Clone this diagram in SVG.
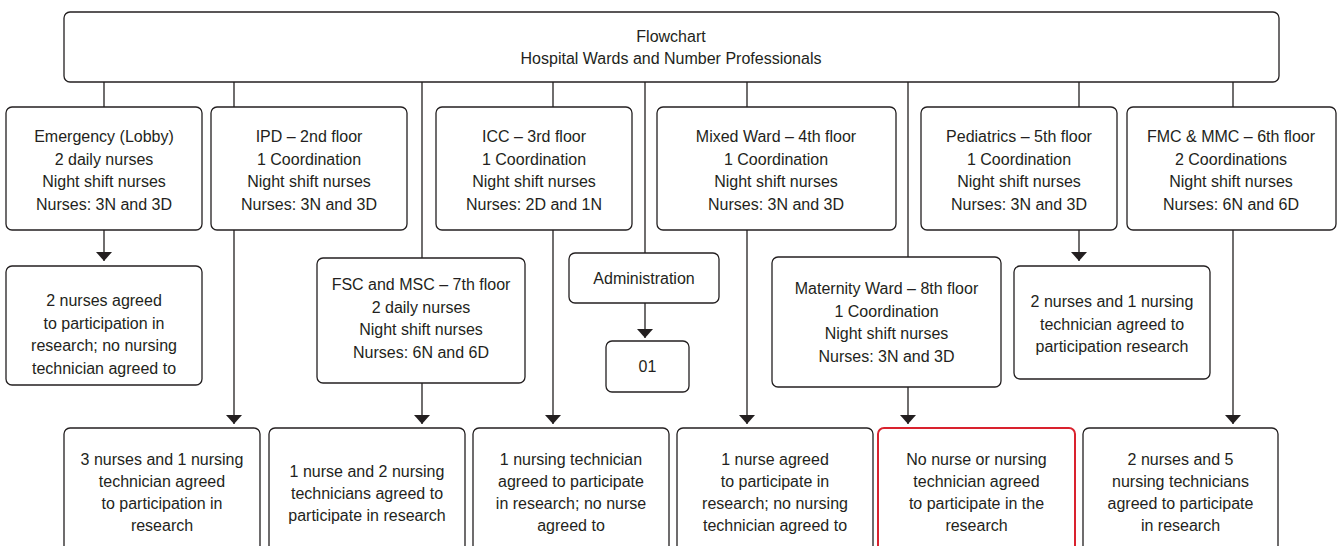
<svg xmlns="http://www.w3.org/2000/svg" width="1338" height="546" viewBox="0 0 1338 546">
<style>
.box{fill:#fff;stroke:#231f20;stroke-width:1.3}
.red{fill:#fff;stroke:#d9222e;stroke-width:2}
text{font-family:"Liberation Sans",Arial,sans-serif;font-size:16px;fill:#231f20;text-anchor:middle}
#connectors line{stroke:#231f20;stroke-width:1.3}
</style>
<defs>
<marker id="arr" markerUnits="userSpaceOnUse" markerWidth="9" markerHeight="16" viewBox="0 0 9 16" refX="9" refY="8" orient="auto">
<path d="M0,0 L9,8 L0,16 Z" fill="#231f20"/>
</marker>
</defs>
<rect width="1338" height="546" fill="#fff"/>
<g id="connectors">
<line x1="104" y1="82" x2="104" y2="107"/>
<line x1="234" y1="82" x2="234" y2="107"/>
<line x1="422" y1="82" x2="422" y2="258"/>
<line x1="553" y1="82" x2="553" y2="107"/>
<line x1="645" y1="82" x2="645" y2="253"/>
<line x1="747" y1="82" x2="747" y2="107"/>
<line x1="908" y1="82" x2="908" y2="257"/>
<line x1="1079" y1="82" x2="1079" y2="107"/>
<line x1="1233" y1="82" x2="1233" y2="107"/>
<line x1="104" y1="230" x2="104" y2="261" marker-end="url(#arr)"/>
<line x1="1079" y1="230" x2="1079" y2="261" marker-end="url(#arr)"/>
<line x1="645" y1="303" x2="645" y2="338" marker-end="url(#arr)"/>
<line x1="234" y1="230" x2="234" y2="424" marker-end="url(#arr)"/>
<line x1="422" y1="383" x2="422" y2="424" marker-end="url(#arr)"/>
<line x1="553" y1="230" x2="553" y2="424" marker-end="url(#arr)"/>
<line x1="747" y1="230" x2="747" y2="424" marker-end="url(#arr)"/>
<line x1="908" y1="387" x2="908" y2="424" marker-end="url(#arr)"/>
<line x1="1233" y1="230" x2="1233" y2="424" marker-end="url(#arr)"/>
</g>
<g id="title">
<rect class="box" x="64" y="12" width="1215" height="70" rx="6"/>
<text x="671" y="42">Flowchart</text>
<text x="671" y="64">Hospital Wards and Number Professionals</text>
</g>
<g id="emergency">
<rect class="box" x="6" y="107" width="196" height="123" rx="6"/>
<text x="104" y="142">Emergency (Lobby)</text>
<text x="104" y="164.5">2 daily nurses</text>
<text x="104" y="187">Night shift nurses</text>
<text x="104" y="209.5">Nurses: 3N and 3D</text>
</g>
<g id="ipd">
<rect class="box" x="211" y="107" width="196" height="123" rx="6"/>
<text x="309" y="142">IPD – 2nd floor</text>
<text x="309" y="164.5">1 Coordination</text>
<text x="309" y="187">Night shift nurses</text>
<text x="309" y="209.5">Nurses: 3N and 3D</text>
</g>
<g id="icc">
<rect class="box" x="436" y="107" width="196" height="123" rx="6"/>
<text x="534" y="142">ICC – 3rd floor</text>
<text x="534" y="164.5">1 Coordination</text>
<text x="534" y="187">Night shift nurses</text>
<text x="534" y="209.5">Nurses: 2D and 1N</text>
</g>
<g id="mixed">
<rect class="box" x="657" y="107" width="239" height="123" rx="6"/>
<text x="776" y="142">Mixed Ward – 4th floor</text>
<text x="776" y="164.5">1 Coordination</text>
<text x="776" y="187">Night shift nurses</text>
<text x="776" y="209.5">Nurses: 3N and 3D</text>
</g>
<g id="pediatrics">
<rect class="box" x="921" y="107" width="196" height="123" rx="6"/>
<text x="1019" y="142">Pediatrics – 5th floor</text>
<text x="1019" y="164.5">1 Coordination</text>
<text x="1019" y="187">Night shift nurses</text>
<text x="1019" y="209.5">Nurses: 3N and 3D</text>
</g>
<g id="fmc">
<rect class="box" x="1127" y="107" width="209" height="123" rx="6"/>
<text x="1231" y="142">FMC &amp; MMC – 6th floor</text>
<text x="1231" y="164.5">2 Coordinations</text>
<text x="1231" y="187">Night shift nurses</text>
<text x="1231" y="209.5">Nurses: 6N and 6D</text>
</g>
<g id="emergency-result">
<rect class="box" x="6" y="266" width="196" height="119" rx="6"/>
<text x="104" y="306">2 nurses agreed</text>
<text x="104" y="328.5">to participation in</text>
<text x="104" y="351">research; no nursing</text>
<text x="104" y="373.5">technician agreed to</text>
</g>
<g id="fsc">
<rect class="box" x="317" y="258" width="208" height="125" rx="6"/>
<text x="421" y="290">FSC and MSC – 7th floor</text>
<text x="421" y="312.5">2 daily nurses</text>
<text x="421" y="335">Night shift nurses</text>
<text x="421" y="357.5">Nurses: 6N and 6D</text>
</g>
<g id="administration">
<rect class="box" x="569" y="253" width="150" height="50" rx="6"/>
<text x="644" y="284">Administration</text>
</g>
<g id="admin-count">
<rect class="box" x="606" y="341" width="83" height="51" rx="6"/>
<text x="647.5" y="372">01</text>
</g>
<g id="maternity">
<rect class="box" x="772" y="257" width="229" height="130" rx="6"/>
<text x="886.5" y="294">Maternity Ward – 8th floor</text>
<text x="886.5" y="316.5">1 Coordination</text>
<text x="886.5" y="339">Night shift nurses</text>
<text x="886.5" y="361.5">Nurses: 3N and 3D</text>
</g>
<g id="pediatrics-result">
<rect class="box" x="1014" y="266" width="196" height="113" rx="6"/>
<text x="1112" y="307">2 nurses and 1 nursing</text>
<text x="1112" y="329.5">technician agreed to</text>
<text x="1112" y="352">participation research</text>
</g>
<g id="ipd-result">
<rect class="box" x="64" y="428" width="196" height="140" rx="6"/>
<text x="162" y="465">3 nurses and 1 nursing</text>
<text x="162" y="487">technician agreed</text>
<text x="162" y="509">to participation in</text>
<text x="162" y="531">research</text>
</g>
<g id="fsc-result">
<rect class="box" x="269" y="428" width="196" height="140" rx="6"/>
<text x="367" y="477">1 nurse and 2 nursing</text>
<text x="367" y="499">technicians agreed to</text>
<text x="367" y="521">participate in research</text>
</g>
<g id="icc-result">
<rect class="box" x="473" y="428" width="196" height="140" rx="6"/>
<text x="571" y="465">1 nursing technician</text>
<text x="571" y="487">agreed to participate</text>
<text x="571" y="509">in research; no nurse</text>
<text x="571" y="531">agreed to</text>
</g>
<g id="mixed-result">
<rect class="box" x="677" y="428" width="196" height="140" rx="6"/>
<text x="775" y="465">1 nurse agreed</text>
<text x="775" y="487">to participate in</text>
<text x="775" y="509">research; no nursing</text>
<text x="775" y="531">technician agreed to</text>
</g>
<g id="maternity-result">
<rect class="red" x="878" y="428" width="197" height="140" rx="6"/>
<text x="976.5" y="465">No nurse or nursing</text>
<text x="976.5" y="487">technician agreed</text>
<text x="976.5" y="509">to participate in the</text>
<text x="976.5" y="531">research</text>
</g>
<g id="fmc-result">
<rect class="box" x="1083" y="428" width="195" height="140" rx="6"/>
<text x="1180.5" y="465">2 nurses and 5</text>
<text x="1180.5" y="487">nursing technicians</text>
<text x="1180.5" y="509">agreed to participate</text>
<text x="1180.5" y="531">in research</text>
</g>
</svg>
